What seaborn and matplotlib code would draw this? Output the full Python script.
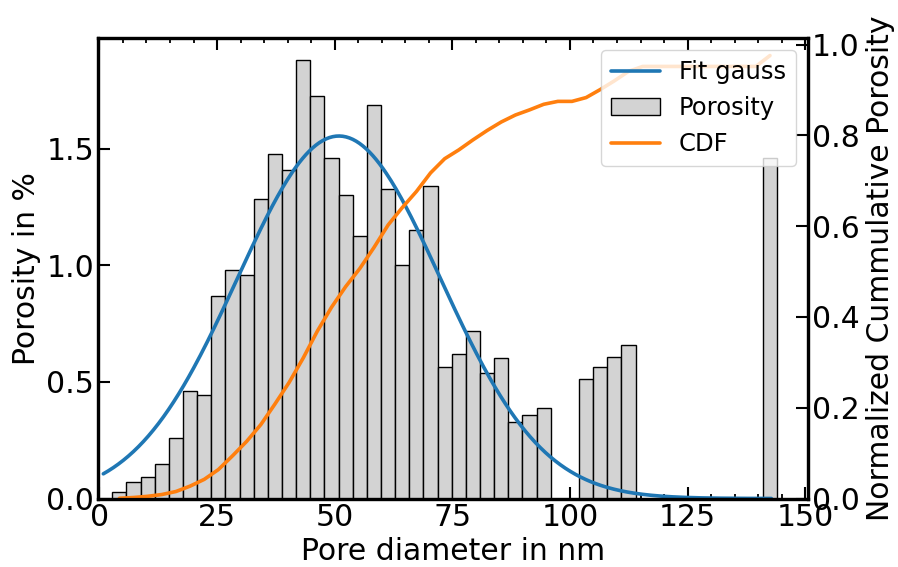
import numpy as np
import pandas as pd
import matplotlib
matplotlib.use("Agg")
import matplotlib.pyplot as plt
from matplotlib.ticker import MultipleLocator
from matplotlib.patches import Patch
from matplotlib.lines import Line2D
import seaborn as sns

# ---------------- data ----------------
bin_start_nm = 2.74
bin_width_nm = 3.006
porosity_pct = [0.030, 0.072, 0.091, 0.147, 0.258, 0.463, 0.444, 0.866, 0.978, 0.959,
                1.285, 1.477, 1.407, 1.879, 1.727, 1.461, 1.303, 1.124, 1.689, 1.328,
                1.002, 1.152, 1.341, 0.563, 0.620, 0.720, 0.537, 0.604, 0.330, 0.358,
                0.390, 0.000, 0.000, 0.512, 0.563, 0.606, 0.660, 0.000, 0.000, 0.000,
                0.000, 0.000, 0.000, 0.000, 0.000, 0.000, 1.461]

# Gaussian fit parameters
fit_amplitude = 1.554
fit_mean = 50.9
fit_sigma = 21.6
fit_range_nm = (0.83, 142.8)

x_ticks = [0, 25, 50, 75, 100, 125, 150]
y_ticks_left = [0.0, 0.5, 1.0, 1.5]
y_ticks_right = [0.0, 0.2, 0.4, 0.6, 0.8, 1.0]

# ---------------- derived tables ----------------
h = np.array(porosity_pct)
edges = bin_start_nm + bin_width_nm * np.arange(len(h) + 1)
centers = 0.5 * (edges[:-1] + edges[1:])
hist_df = pd.DataFrame({"diameter": centers, "porosity": h})

gx = np.linspace(fit_range_nm[0], fit_range_nm[1], 400)
gauss_df = pd.DataFrame({"diameter": gx,
                         "fit": fit_amplitude * np.exp(-(gx - fit_mean) ** 2 / (2 * fit_sigma ** 2))})

cdf_vals = (np.cumsum(h) - h / 2) / h.sum()
cdf_df = pd.DataFrame({"diameter": centers, "cdf": cdf_vals})

# ---------------- style ----------------
sns.set_style("ticks")
plt.rcParams["font.family"] = ["DejaVu Sans"]
plt.rcParams.update({"text.color": "black", "axes.labelcolor": "black",
                     "xtick.color": "black", "ytick.color": "black",
                     "axes.edgecolor": "black"})
FS = 21.5

fig = plt.figure(figsize=(8.98, 5.67), dpi=100)
ax = fig.add_axes([0.1095, 0.1208, 0.8998 - 0.1095, 0.9325 - 0.1208])

sns.histplot(data=hist_df, x="diameter", weights="porosity",
             binwidth=bin_width_nm, binrange=(float(edges[0]), float(edges[-1])),
             color="lightgray", edgecolor="black", linewidth=1.0, alpha=1.0, ax=ax)
sns.lineplot(data=gauss_df, x="diameter", y="fit", color="#1f77b4",
             linewidth=2.6, ax=ax)

ax.set_xlim(-0.23, 150.6)
ax.set_ylim(0, 1.973)
ax.set_xticks(x_ticks)
ax.set_yticks(y_ticks_left)
ax.set_yticklabels([f"{v:.1f}" for v in y_ticks_left])
ax.xaxis.set_minor_locator(MultipleLocator(5))
ax.set_xlabel("Pore diameter in nm", fontsize=FS, color="black")
ax.set_ylabel("Porosity in %", fontsize=FS, color="black")
ax.tick_params(axis="both", which="major", direction="in", length=8.5, width=1.5,
               labelsize=FS, pad=3, colors="black")
ax.tick_params(axis="x", which="both", top=True, bottom=True, direction="in")
ax.tick_params(axis="x", which="minor", length=3.8, width=1.3, colors="black")
ax.tick_params(axis="y", right=False)

ax2 = ax.twinx()
sns.lineplot(data=cdf_df, x="diameter", y="cdf", color="#ff7f0e", linewidth=2.6, ax=ax2)
ax2.set_ylim(0, 1.014)
ax2.set_yticks(y_ticks_right)
ax2.set_yticklabels([f"{v:.1f}" for v in y_ticks_right])
ax2.set_ylabel("Normalized Cummulative Porosity", fontsize=FS, color="black")
ax2.tick_params(axis="y", which="major", direction="in", length=8.5, width=1.5,
                labelsize=FS, pad=3, colors="black")

for a in (ax, ax2):
    for s in a.spines.values():
        s.set_linewidth(2.3)
        s.set_color("black")
        s.set_visible(True)
    if a.get_legend() is not None:
        a.get_legend().remove()

handles = [Line2D([], [], color="#1f77b4", linewidth=2.6),
           Patch(facecolor="lightgray", edgecolor="black", linewidth=1.0),
           Line2D([], [], color="#ff7f0e", linewidth=2.6)]
labels = ["Fit gauss", "Porosity", "CDF"]
leg = ax2.legend(handles, labels, loc="upper right", fontsize=17.5, framealpha=0.8)
for t in leg.get_texts():
    t.set_color("black")

fig.savefig("out.png", dpi=100)
